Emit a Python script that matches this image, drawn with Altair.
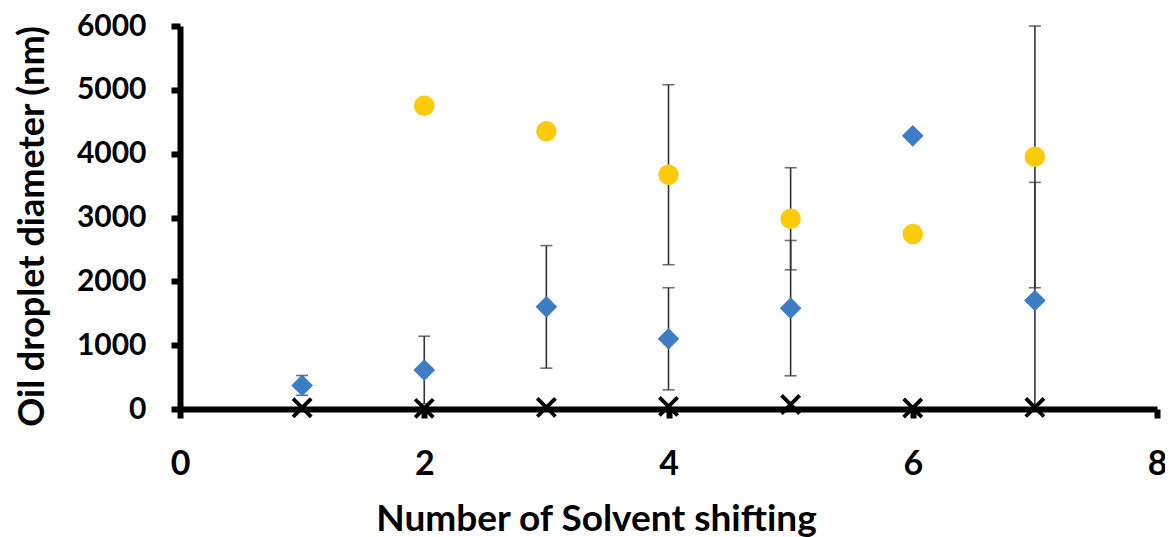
import altair as alt
import pandas as pd

# ---- data ----
shifts = [1, 2, 3, 4, 5, 6, 7]
blue_mean = [370, 610, 1600, 1100, 1580, 4280, 1700]
blue_err = [155, 530, 960, 800, 1060, None, 1850]
yellow_mean = [None, 4750, 4350, 3670, 2980, 2740, 3950]
yellow_err = [None, None, None, 1410, 800, None, 2050]
cross_mean = [20, 10, 25, 40, 70, 15, 25]

x_tick_values = [0, 2, 4, 6, 8]
y_tick_values = [0, 1000, 2000, 3000, 4000, 5000, 6000]

FONT = "Lato"

blue_df = pd.DataFrame({"n": shifts, "d": blue_mean, "e": blue_err})
yellow_df = pd.DataFrame({"n": shifts, "d": yellow_mean, "e": yellow_err}).dropna(subset=["d"])
cross_df = pd.DataFrame({"n": shifts, "d": cross_mean})

err_df = pd.concat([blue_df, yellow_df]).dropna(subset=["e"]).copy()
err_df["lo"] = err_df["d"] - err_df["e"]
err_df["hi"] = err_df["d"] + err_df["e"]
caps_df = pd.concat([
    err_df[["n", "lo"]].rename(columns={"lo": "v"}),
    err_df[["n", "hi"]].rename(columns={"hi": "v"}),
])
caps_df = caps_df[(caps_df["v"] >= 0) & (caps_df["v"] <= 6000)]

x_scale = alt.Scale(domain=[0, 8], nice=False, zero=False)
y_scale = alt.Scale(domain=[0, 6000], nice=False)

x_axis = alt.Axis(
    values=x_tick_values, title="Number of Solvent shifting", grid=False,
    labelPadding=29, labelFontSize=34, labelFlush=False, titleX=416,
    titleY=121, titleFontSize=37, titleAlign="center",
    titleBaseline="alphabetic", zindex=1, format="d",
)
y_axis = alt.Axis(
    values=y_tick_values, title="Oil droplet diameter (nm)", grid=False,
    labelPadding=25, labelFontSize=30, titleX=-148, titleY=200,
    titleAngle=270, titleAlign="center", titleBaseline="middle", zindex=1,
    format="d",
)

def X(field):
    return alt.X(f"{field}:Q", scale=x_scale, axis=x_axis)

def Y(field):
    return alt.Y(f"{field}:Q", scale=y_scale, axis=y_axis)

rules = alt.Chart(err_df).mark_rule(color="#333333", strokeWidth=1.6, clip=True).encode(
    x=X("n"), y=Y("lo"), y2="hi:Q"
)
caps = alt.Chart(caps_df).mark_tick(
    orient="horizontal", size=12, thickness=1.6, color="#333333"
).encode(x=X("n"), y=Y("v"))

blue = alt.Chart(blue_df).mark_point(
    shape="diamond", size=470, filled=True, opacity=1, color="#3E7CC4"
).encode(x=X("n"), y=Y("d"))

yellow = alt.Chart(yellow_df).mark_point(
    shape="circle", size=420, filled=True, opacity=1, color="#FFCB0C"
).encode(x=X("n"), y=Y("d"))

cross = alt.Chart(cross_df).mark_point(
    shape="M-1,-1L1,1M1,-1L-1,1", size=330, filled=False, opacity=1,
    stroke="black", strokeWidth=3.8,
).encode(x=X("n"), y=Y("d"))

chart = alt.layer(rules, caps, blue, yellow, cross).properties(
    width=977, height=383,
    autosize=alt.AutoSizeParams(type="none"),
    padding={"left": 172, "top": 18, "right": 8, "bottom": 128},
).configure_view(stroke=None).configure_axis(
    domainColor="black", domainWidth=6, tickColor="black", tickWidth=6,
    tickSize=9, labelFont=FONT, labelFontWeight="bold",
    labelColor="black", titleFont=FONT, titleFontSize=36,
    titleFontWeight="bold", titleColor="black",
)

chart.save("out.html", embed_options={"renderer": "svg", "actions": False})
